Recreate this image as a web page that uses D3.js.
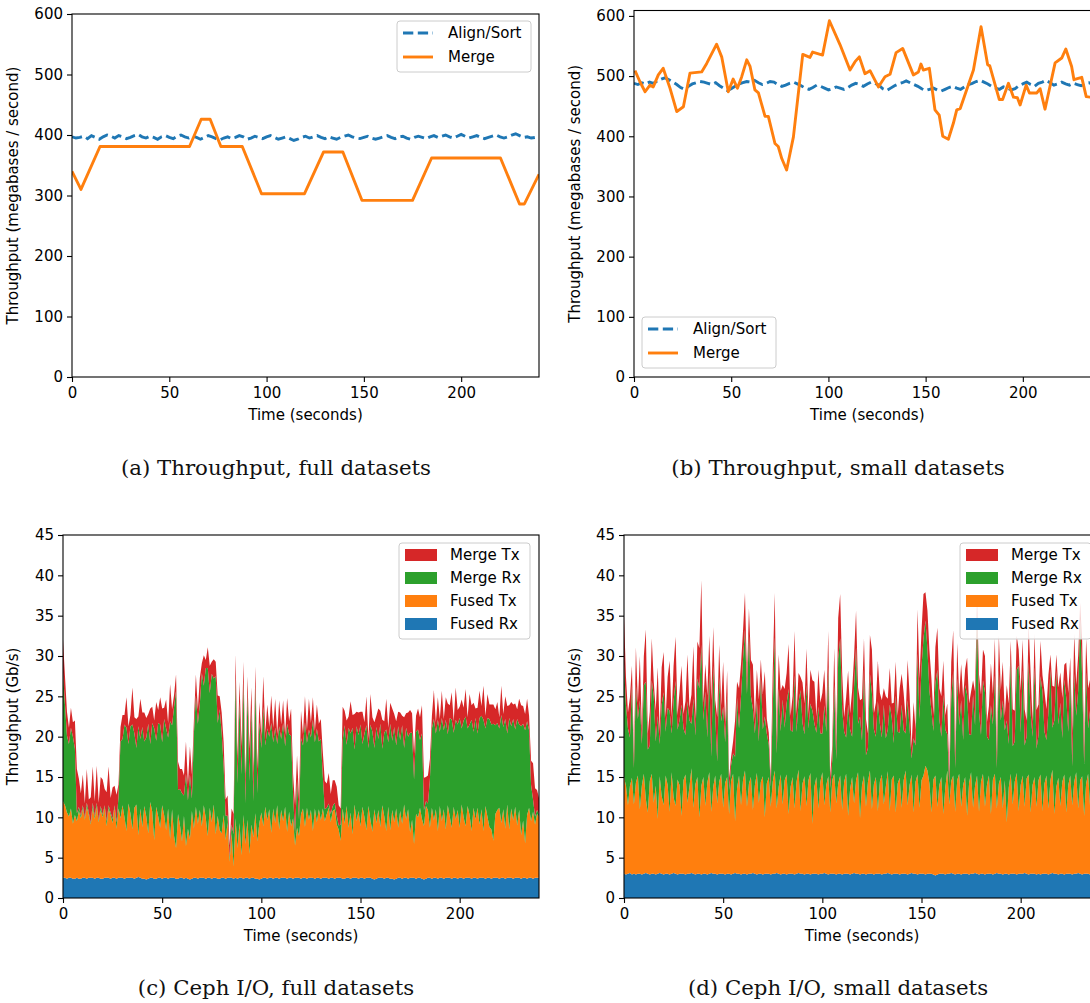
<!DOCTYPE html>
<html><head><meta charset="utf-8">
<script src="https://cdn.jsdelivr.net/npm/d3@7"></script>
<style>body{margin:0;background:#fff}svg{display:block}</style>
</head><body>
<svg id="c" width="1090" height="1003"></svg>
<script>
// ---------- DATA ----------
const xTicks = [0, 50, 100, 150, 200];
const yTicksThroughput = [0, 100, 200, 300, 400, 500, 600];
const yTicksCeph = [0, 5, 10, 15, 20, 25, 30, 35, 40, 45];
const lineSeries = ["Align/Sort", "Merge"];
const stackSeries = ["Fused Rx", "Fused Tx", "Merge Rx", "Merge Tx"];
const legendOrder = ["Merge Tx", "Merge Rx", "Fused Tx", "Fused Rx"];
const captions = ["(a) Throughput, full datasets", "(b) Throughput, small datasets",
                  "(c) Ceph I/O, full datasets", "(d) Ceph I/O, small datasets"];

// (a) Align/Sort sampled every 2 s
const alignA = [397,395,396,398,394,399,396,393,397,400,
 398,395,399,397,394,396,399,401,397,395,
 398,396,393,397,399,396,394,398,400,397,
 395,398,396,393,396,399,397,394,392,395,
 397,394,396,399,397,393,395,398,396,394,
 397,399,396,393,395,397,394,391,393,396,
 398,395,397,399,396,394,397,395,393,396,
 398,400,397,395,394,396,398,395,393,395,
 397,399,396,394,397,398,395,393,396,398,
 396,394,397,399,396,398,400,397,395,398,
 401,398,395,397,399,396,394,396,398,400,
 397,395,397,400,402,399,396,397,395,396,396];
const mergeATime = [0,4.6,14.4,60.4,66.4,71,76.5,87.5,97.4,119.5,129.3,139.2,149,175,184.8,220.2,230,232.5,240];
const mergeAVal  = [340,310,381,381,426,426,381,381,303,303,372,372,292,292,362,362,286,286,335];

// (b)
const alignB = [488,486,489,487,490,488,492,495,497,494,
 490,486,481,478,483,487,489,491,490,488,
 486,489,484,480,476,479,483,487,489,491,
 490,493,489,486,488,491,490,486,483,485,
 488,490,487,484,480,478,481,485,483,480,
 477,479,482,480,478,481,485,488,486,483,
 487,490,488,485,479,476,480,484,487,489,
 492,489,486,483,479,476,478,480,477,475,
 478,481,483,480,478,482,486,488,491,493,
 490,487,483,480,478,482,480,477,479,484,
 487,490,486,483,488,490,493,489,485,487,
 490,487,485,488,486,484,487,489,486,485,486];
const mergeBTime = [0.5,3,5.7,8.2,9.9,12.5,15,18.5,22,25.4,28.8,34.8,37.4,42.5,45.1,48.5,51,53.2,55.4,58,
 59.7,62.2,64,67.4,69.1,72.5,74.2,76,78.5,82,86.8,90.5,91.9,97,100.5,106,111.1,113.7,115.9,118.8,
 121.4,125.7,129.1,131.7,134.8,138.2,143.7,146.3,147.6,148.8,151.9,154.8,157,158.8,161.7,164.3,166,167.8,174.6,178.5,
 181.9,183,187.9,189.6,192.6,195.2,197.2,198.6,201.7,203.4,207.2,208.9,211.4,216.6,220,222.1,225.1,226.3,230.3,232.6,234.6,240];
const mergeBVal = [509,491,474,485,482,502,513,480,441,449,505,507,521,553,532,474,495,480,499,527,
 516,477,472,433,433,388,383,363,344,399,536,531,540,535,592,552,510,524,532,504,
 509,482,499,503,539,546,502,507,520,510,513,444,435,400,395,422,444,446,510,582,
 519,517,461,461,488,465,464,452,485,472,472,479,445,522,530,545,516,494,498,466,465,470];

// (c) Ceph I/O full datasets, one sample per second (Gb/s)
const fusedRxC = [2.5,2.5,2.4,2.5,2.5,2.4,2.4,2.5,2.4,2.4,
 2.5,2.5,2.4,2.5,2.5,2.5,2.4,2.5,2.5,2.4,
 2.4,2.5,2.5,2.5,2.4,2.5,2.5,2.4,2.5,2.5,
 2.5,2.4,2.5,2.5,2.5,2.5,2.4,2.5,2.6,2.5,
 2.4,2.4,2.3,2.4,2.5,2.5,2.4,2.4,2.5,2.5,
 2.4,2.5,2.5,2.4,2.5,2.5,2.5,2.4,2.4,2.5,
 2.5,2.4,2.5,2.4,2.3,2.4,2.5,2.5,2.4,2.5,
 2.5,2.5,2.4,2.5,2.5,2.4,2.5,2.5,2.4,2.4,
 2.5,2.5,2.4,2.5,2.5,2.5,2.4,2.5,2.4,2.5,
 2.5,2.4,2.5,2.5,2.4,2.5,2.5,2.4,2.4,2.3,
 2.4,2.5,2.5,2.4,2.5,2.5,2.4,2.5,2.5,2.4,
 2.5,2.5,2.5,2.4,2.5,2.5,2.4,2.5,2.5,2.5,
 2.4,2.5,2.5,2.4,2.5,2.5,2.5,2.4,2.5,2.5,
 2.4,2.5,2.5,2.5,2.4,2.5,2.5,2.4,2.5,2.5,
 2.5,2.4,2.4,2.5,2.5,2.4,2.5,2.5,2.5,2.4,
 2.5,2.5,2.4,2.5,2.5,2.5,2.4,2.3,2.4,2.5,
 2.5,2.5,2.4,2.5,2.5,2.4,2.4,2.3,2.4,2.5,
 2.5,2.4,2.5,2.5,2.4,2.5,2.5,2.5,2.4,2.5,
 2.5,2.4,2.3,2.4,2.5,2.5,2.4,2.5,2.5,2.4,
 2.5,2.5,2.4,2.5,2.5,2.5,2.4,2.5,2.5,2.4,
 2.5,2.5,2.4,2.5,2.5,2.5,2.4,2.5,2.5,2.4,
 2.5,2.5,2.5,2.4,2.5,2.5,2.4,2.5,2.5,2.5,
 2.4,2.5,2.5,2.4,2.5,2.5,2.5,2.4,2.5,2.5,
 2.5,2.4,2.5,2.5,2.4,2.5,2.5,2.4,2.5,2.5,
 2.5];
const fusedTxC = [9.5,9.0,8.2,7.6,8.6,6.8,7.9,7.0,8.4,7.5,
 8.6,7.2,8.9,7.8,6.6,8.7,7.4,8.9,6.9,8.5,
 7.6,8.8,6.4,8.6,7.9,6.8,8.8,6.2,8.6,7.4,
 9.0,7.6,5.8,9.2,8.0,6.0,8.8,9.1,5.2,8.6,
 6.4,9.0,7.8,5.6,9.4,8.2,4.8,8.9,7.6,6.2,
 9.1,7.8,5.9,8.7,4.8,8.5,5.2,3.8,8.0,6.5,
 4.5,7.8,3.9,6.2,5.0,8.4,6.1,8.8,6.8,8.4,
 6.4,9.0,7.5,5.2,8.7,7.0,9.1,5.4,7.8,6.0,
 5.5,7.8,4.8,6.9,2.0,5.6,1.5,7.4,3.8,6.8,
 2.8,7.9,4.2,7.2,3.1,6.6,5.0,8.1,4.6,7.0,
 8.2,6.4,8.8,7.2,8.5,5.6,8.7,6.8,9.0,6.1,
 8.4,7.0,8.8,5.8,8.2,6.4,7.5,4.0,6.2,5.2,
 8.0,8.6,6.3,8.8,7.2,8.4,5.8,8.7,6.9,8.5,
 7.2,8.6,7.0,7.9,8.8,6.9,8.3,8.6,6.6,6.0,
 4.6,8.7,6.8,8.9,6.2,8.2,5.4,9.1,7.0,8.4,
 6.4,8.8,7.6,5.9,8.9,7.2,5.8,8.7,6.9,8.4,
 6.3,9.0,7.7,5.8,8.8,6.0,8.5,7.1,8.7,6.2,
 8.3,6.8,9.1,7.2,8.6,5.6,7.2,4.2,8.0,7.5,
 8.7,7.4,6.6,9.0,8.4,6.2,8.8,7.1,8.5,5.9,
 8.9,7.0,8.6,6.0,9.0,7.6,6.3,8.8,7.2,8.5,
 6.2,9.1,7.6,6.4,8.9,7.8,5.9,8.7,7.2,8.8,
 6.6,8.5,5.8,9.0,7.6,6.3,6.1,4.6,7.9,8.4,
 8.8,6.8,8.5,6.2,9.1,6.0,8.6,7.2,8.8,6.5,
 8.4,5.4,7.1,4.3,7.9,8.7,7.0,8.3,6.6,7.9,
 7.6];
const mergeRxC = [16.0,12.5,9.5,9.0,10.0,10.8,8.2,1.0,0.5,0.3,
 0.4,0.2,0.5,0.3,0.2,0.6,0.3,0.4,0.2,0.5,
 0.3,0.2,0.6,0.4,0.3,0.5,0.2,0.8,1.5,9.5,
 8.2,11.5,12.8,7.4,10.8,13.0,9.2,7.0,13.5,8.6,
 12.4,8.0,9.8,13.6,7.2,11.0,13.8,8.2,11.6,12.8,
 7.8,11.9,12.6,8.8,14.6,10.4,16.0,19.5,3.0,4.5,
 6.0,2.5,9.0,3.5,8.0,1.5,11.8,13.8,12.4,13.2,
 19.0,14.8,18.6,20.8,14.2,18.4,15.6,19.6,11.5,15.0,
 12.5,6.0,3.0,0.8,0.5,1.0,4.0,17.5,8.0,15.0,
 10.0,16.5,5.0,15.8,9.0,14.5,4.5,16.0,6.0,12.5,
 8.0,14.8,7.6,11.4,9.0,13.6,8.2,11.8,7.6,12.8,
 8.8,12.2,7.5,13.4,9.6,11.2,3.0,1.5,6.0,2.0,
 9.4,7.8,13.0,8.0,11.2,9.0,13.8,8.2,11.6,8.4,
 10.1,4.0,1.5,0.8,0.5,1.0,0.6,0.8,1.2,0.5,
 2.0,8.4,12.2,7.6,12.4,9.8,13.2,6.8,11.8,9.4,
 12.6,7.8,10.4,13.0,7.2,11.8,12.4,7.6,11.9,8.8,
 12.8,7.0,10.4,12.6,8.0,13.2,8.6,11.8,7.8,12.6,
 8.8,12.2,7.0,11.4,9.0,12.4,10.8,8.0,10.2,10.9,
 8.4,10.6,2.0,0.6,0.8,6.0,9.8,12.6,9.4,13.8,
 9.2,12.8,9.8,13.6,8.8,12.2,13.4,9.2,12.4,10.6,
 13.6,9.4,12.0,13.6,9.6,11.2,13.8,9.4,12.6,9.2,
 13.2,11.6,13.8,9.6,12.2,13.4,13.0,14.5,11.0,10.8,
 9.8,13.4,10.2,13.6,8.8,13.8,10.2,12.6,9.6,13.2,
 10.6,13.5,12.0,14.0,11.6,9.6,4.5,1.5,1.0,0.5,
 0.3];
const mergeTxC = [4.0,3.5,3.0,2.0,2.5,1.8,3.5,5.5,3.5,2.8,
 3.8,1.8,4.2,1.6,3.2,4.5,1.9,4.6,2.2,3.6,
 4.4,2.0,3.6,4.8,1.8,3.9,2.4,3.4,1.5,1.8,
 3.0,1.2,3.8,2.2,1.4,4.6,2.0,3.6,1.2,5.0,
 1.8,3.6,2.4,1.2,4.4,2.0,1.0,4.8,1.6,3.4,
 4.2,1.4,3.6,1.8,4.6,2.0,1.5,2.0,3.5,2.5,
 3.0,2.5,4.0,2.0,3.5,3.0,1.6,2.6,1.8,3.2,
 1.2,3.8,1.0,2.6,3.4,1.5,2.4,1.8,3.4,1.6,
 2.5,3.0,2.0,2.5,1.5,2.0,2.5,2.8,3.0,2.5,
 3.5,2.5,3.0,2.0,4.0,2.5,3.5,2.2,3.0,2.5,
 1.4,3.8,1.6,3.0,1.2,3.4,1.8,3.6,1.2,3.2,
 1.8,2.8,1.4,3.2,1.6,3.4,2.5,3.5,3.0,2.5,
 3.4,1.4,3.2,1.6,3.8,1.8,2.8,1.4,3.0,2.2,
 2.5,3.0,3.5,3.0,3.8,2.5,3.2,2.8,3.5,2.5,
 2.0,4.2,1.8,3.0,1.4,4.0,1.6,4.4,1.8,2.8,
 1.6,4.0,1.4,3.6,1.2,3.8,1.8,3.2,1.4,3.8,
 1.6,3.6,1.4,3.8,1.8,2.6,4.0,1.6,3.0,1.8,
 3.4,1.2,3.8,1.8,3.0,2.8,2.4,3.2,2.0,2.6,
 2.8,3.5,4.0,3.0,3.5,2.5,1.6,3.6,1.4,2.8,
 1.6,3.4,1.4,2.8,3.8,1.6,3.4,1.4,4.0,1.8,
 1.4,3.6,1.6,3.4,1.4,3.8,1.8,3.6,1.2,3.2,
 3.4,1.2,4.2,1.6,3.0,1.8,2.5,2.4,2.0,2.6,
 1.4,3.6,1.6,2.8,3.4,1.6,3.0,1.8,3.2,1.2,
 3.2,2.6,2.2,2.0,2.8,1.8,3.0,4.5,3.5,2.5,
 2.0];

// (d) Ceph I/O small datasets
const fusedRxD = [3.0,2.9,3.0,3.1,2.9,3.0,2.9,3.0,3.0,2.9,
 3.0,3.1,3.0,2.9,3.0,3.0,2.9,3.0,3.1,3.0,
 2.9,3.0,3.0,2.9,3.0,3.1,3.0,2.9,3.0,3.0,
 3.0,2.9,3.0,3.0,3.1,3.0,2.9,3.0,3.0,2.9,
 3.0,3.0,2.9,3.0,3.1,3.0,3.0,2.9,3.0,3.0,
 3.0,2.9,3.0,3.0,2.9,3.0,3.1,3.0,3.0,2.9,
 3.0,3.0,2.9,3.0,3.0,3.1,3.0,2.9,3.0,3.0,
 2.9,3.0,3.0,3.0,2.9,3.0,3.0,3.1,3.0,2.9,
 3.0,3.0,2.9,3.0,3.0,3.0,2.9,3.0,3.1,3.0,
 3.0,2.9,3.0,3.0,2.9,3.0,3.0,3.0,2.9,3.0,
 3.0,3.1,3.0,2.9,3.0,3.0,3.0,2.9,3.0,3.0,
 2.9,3.0,3.0,3.0,2.9,3.0,3.1,3.0,3.0,2.9,
 3.0,3.0,2.9,3.0,3.0,3.0,2.9,3.0,3.0,3.0,
 2.9,3.0,3.0,3.1,3.0,2.9,3.0,3.0,3.0,2.9,
 3.0,3.0,3.0,2.9,3.0,3.1,3.0,3.0,2.9,3.0,
 3.0,3.0,2.9,3.0,3.0,3.0,2.9,2.8,2.9,3.0,
 3.0,3.0,2.9,3.0,3.0,3.1,3.0,2.9,3.0,3.0,
 2.9,3.0,3.0,3.0,2.9,3.0,3.0,3.1,3.0,2.9,
 3.0,3.0,2.9,3.0,3.0,3.0,2.9,3.0,3.1,3.0,
 3.0,2.9,3.0,3.0,2.9,3.0,3.0,3.0,2.9,3.0,
 3.0,3.0,3.1,3.0,2.9,3.0,3.0,3.0,2.9,3.0,
 2.9,3.0,3.0,3.0,2.9,3.0,3.1,3.0,3.0,2.9,
 3.0,3.0,2.9,3.0,3.0,3.0,2.9,3.0,3.0,3.1,
 3.0,2.9,3.0,3.0,3.0,2.9,3.0,3.0,3.1,3.0,
 3.0];
const fusedTxD = [12.0,11.0,8.5,10.8,12.0,8.6,11.4,12.2,8.0,11.0,
 12.4,9.2,7.6,11.6,12.4,8.8,11.0,6.8,12.0,9.6,
 8.6,12.2,11.0,7.8,12.6,9.4,8.4,11.8,11.0,7.2,
 11.6,12.4,8.8,10.8,13.0,8.2,11.2,12.0,7.0,11.0,
 12.0,8.4,11.4,12.6,7.6,10.8,12.2,8.8,11.4,12.4,
 8.2,11.4,12.0,7.4,11.6,12.4,6.4,10.6,12.2,8.6,
 11.6,12.8,8.4,11.2,12.0,7.8,11.0,12.6,8.8,11.4,
 12.2,7.0,11.2,12.0,8.4,11.4,12.8,8.0,10.8,12.4,
 8.6,11.6,12.4,7.4,10.8,12.0,8.2,11.4,12.8,7.8,
 11.2,12.2,8.4,11.6,12.6,6.2,10.8,12.0,8.2,11.4,
 12.6,8.4,11.0,12.2,7.6,11.6,12.4,8.8,11.2,12.2,
 8.0,11.4,12.4,7.2,10.6,12.0,8.6,11.6,12.6,7.0,
 11.0,12.2,8.4,11.4,12.8,8.0,11.2,12.0,7.8,11.4,
 12.4,8.6,10.8,12.6,7.8,11.8,12.2,7.6,11.2,12.0,
 8.2,11.6,12.8,8.6,11.0,12.2,7.6,11.4,12.4,8.2,
 11.6,12.2,13.5,12.8,11.2,7.6,11.8,12.4,8.4,11.0,
 12.0,7.4,10.8,12.8,8.6,11.4,12.2,7.8,11.6,12.4,
 8.4,11.0,12.0,7.2,11.4,12.6,8.2,10.8,12.2,7.8,
 11.4,12.4,8.4,11.0,12.2,7.4,11.8,12.4,8.0,11.2,
 12.0,8.2,11.6,6.4,10.8,12.4,8.6,11.4,12.6,7.8,
 11.0,12.2,8.2,11.8,12.4,7.6,11.0,12.0,8.4,11.6,
 12.4,7.8,11.2,12.2,8.2,11.6,12.8,7.4,10.8,12.0,
 8.4,11.4,12.4,7.6,11.0,12.2,8.6,11.4,12.6,8.0,
 11.6,12.2,7.2,11.2,12.4,8.4,11.8,12.4,8.2,11.4,
 12.0];
const mergeRxD = [14.0,10.0,9.5,6.0,11.5,4.5,12.2,7.0,13.5,5.2,
 11.0,14.5,7.8,4.4,11.6,13.2,5.5,12.8,4.0,11.4,
 14.0,5.4,9.6,12.5,4.8,11.9,15.5,6.2,8.0,13.8,
 6.4,4.9,12.6,8.2,5.5,13.5,6.0,12.2,16.0,17.5,
 7.0,14.2,5.6,12.4,6.8,15.0,7.5,5.2,13.0,6.5,
 12.5,5.0,10.2,3.0,2.0,2.5,8.0,11.2,5.8,13.5,
 15.0,17.5,14.0,18.5,10.0,12.5,6.4,9.0,7.6,13.2,
 5.8,12.5,6.2,4.0,2.5,9.2,16.5,6.8,12.2,5.4,
 13.0,6.5,8.8,15.5,7.0,5.6,16.5,6.2,8.4,15.0,
 7.5,5.2,15.0,6.4,8.6,14.0,7.8,5.5,12.6,6.0,
 4.8,12.4,6.6,13.5,3.0,2.5,11.0,5.5,15.5,17.0,
 12.5,6.2,4.5,13.8,7.4,5.0,14.5,16.5,6.0,12.6,
 5.5,13.2,6.4,4.2,12.0,14.4,6.8,5.0,13.6,7.2,
 4.6,12.4,6.0,5.2,13.2,7.6,4.0,14.5,6.4,5.6,
 12.8,6.2,4.6,13.0,7.0,2.0,9.2,4.5,15.0,11.0,
 14.0,17.0,18.0,15.0,11.5,12.6,6.0,11.4,17.0,8.2,
 5.0,14.8,7.2,4.5,2.5,10.2,13.0,5.4,12.6,6.0,
 13.2,5.6,11.4,15.0,6.0,4.6,14.0,7.5,20.0,12.4,
 5.8,11.6,14.2,6.0,4.4,13.5,6.8,12.2,5.0,14.0,
 7.0,13.4,6.2,12.6,5.4,14.5,7.2,5.0,12.8,18.0,
 6.5,13.0,7.6,5.2,14.0,12.4,6.0,13.6,7.2,5.6,
 12.2,14.8,6.4,4.4,12.0,13.8,5.2,11.6,14.4,6.6,
 12.8,5.4,11.8,14.2,6.6,12.6,4.8,13.4,7.0,14.6,
 20.0,12.2,6.4,13.8,5.6,12.0,14.4,6.2,12.6,5.4,
 9.0];
const mergeTxD = [6.0,3.5,2.0,5.0,2.4,1.6,4.6,2.0,5.5,1.8,
 3.6,6.5,2.0,4.2,5.2,1.8,3.8,6.0,1.6,4.6,
 5.0,1.8,3.8,6.2,2.0,4.4,5.5,1.8,3.6,4.8,
 1.8,4.2,5.8,1.6,3.6,6.5,2.0,4.6,5.0,8.0,
 2.2,3.4,5.2,4.5,7.0,4.8,1.8,5.5,4.0,2.0,
 5.6,2.2,3.0,1.5,1.0,1.5,4.5,2.0,5.0,4.0,
 3.5,4.5,2.0,3.2,4.5,5.5,1.8,3.8,5.2,2.0,
 4.4,5.6,1.8,1.5,1.0,4.6,5.5,2.0,4.2,5.0,
 1.8,4.8,3.8,5.6,1.8,4.4,5.5,2.2,3.6,1.6,
 5.0,3.8,4.5,1.8,4.2,3.8,5.2,2.0,4.6,3.8,
 5.0,4.4,2.0,4.5,1.4,1.8,4.6,2.2,5.0,5.5,
 4.6,1.8,5.0,4.2,2.0,5.6,3.8,4.5,4.5,2.0,
 5.2,3.8,4.5,1.8,4.8,5.4,2.0,4.2,5.0,3.8,
 4.6,2.0,5.2,3.8,4.5,1.8,5.0,4.2,2.0,5.5,
 3.8,4.6,1.8,5.0,4.2,1.4,4.5,2.0,5.5,5.0,
 4.5,5.5,3.5,4.8,5.0,4.0,2.0,4.5,5.2,3.8,
 5.0,4.2,1.8,3.8,1.4,4.6,5.0,2.0,4.4,3.8,
 4.5,5.2,2.0,4.6,3.8,5.4,1.8,4.2,2.0,4.6,
 5.0,3.8,4.5,1.8,4.2,5.2,3.8,4.6,2.0,4.4,
 3.8,4.8,1.8,4.4,5.0,2.0,4.6,3.8,4.2,2.0,
 5.2,3.8,4.5,2.0,4.6,5.0,1.8,4.2,4.8,3.8,
 4.4,2.0,5.0,3.8,4.6,1.8,5.2,4.2,2.0,4.6,
 3.8,5.0,1.8,4.4,4.8,2.0,4.2,5.0,3.8,4.4,
 2.0,4.6,2.0,4.2,5.0,3.8,4.6,1.8,4.4,3.8,
 3.0];

// ---------- DRAWING ----------
const BLUE = "#1f77b4", ORANGE = "#ff7f0e", GREEN = "#2ca02c", RED = "#d62728";
const colorOf = {"Align/Sort": BLUE, "Merge": ORANGE, "Fused Rx": BLUE, "Fused Tx": ORANGE, "Merge Rx": GREEN, "Merge Tx": RED};
const FONT = "'DejaVu Sans', sans-serif";
const FS = 15;
const svg = d3.select("#c");
let clipN = 0;

function frame(cfg) {
  const x = d3.scaleLinear().domain([0, 240]).range([cfg.L, cfg.R]);
  const y = d3.scaleLinear().domain([0, cfg.ymax]).range([cfg.B, cfg.T]);
  const id = "clip" + (clipN++);
  svg.append("clipPath").attr("id", id).append("rect")
    .attr("x", cfg.L).attr("y", cfg.T).attr("width", cfg.R - cfg.L).attr("height", cfg.B - cfg.T);
  const plot = svg.append("g").attr("clip-path", `url(#${id})`);
  return {x, y, plot};
}

function axes(cfg, x, y) {
  const gx = svg.append("g").attr("transform", `translate(0,${cfg.B})`)
    .call(d3.axisBottom(x).tickValues(xTicks).tickSize(5).tickPadding(5).tickFormat(d3.format("d")));
  const gy = svg.append("g").attr("transform", `translate(${cfg.L},0)`)
    .call(d3.axisLeft(y).tickValues(cfg.yticks).tickSize(5).tickPadding(4).tickFormat(d3.format("d")));
  [gx, gy].forEach(g => {
    g.attr("font-family", FONT).attr("font-size", FS);
    g.select(".domain").remove();
    g.selectAll("line").attr("stroke", "#000").attr("stroke-width", 1.1);
    g.selectAll("text").attr("fill", "#000");
  });
  svg.append("rect").attr("x", cfg.L).attr("y", cfg.T).attr("width", cfg.R - cfg.L).attr("height", cfg.B - cfg.T)
    .attr("fill", "none").attr("stroke", "#000").attr("stroke-width", 1.1);
  svg.append("text").attr("x", (cfg.L + cfg.R) / 2).attr("y", cfg.B + 43)
    .attr("text-anchor", "middle").attr("font-family", FONT).attr("font-size", FS).text("Time (seconds)");
  svg.append("text").attr("transform", `translate(${cfg.ylx},${(cfg.T + cfg.B) / 2}) rotate(-90)`)
    .attr("text-anchor", "middle").attr("font-family", FONT).attr("font-size", FS).text(cfg.ylabel);
}

function legendBox(x0, y0, w, h) {
  svg.append("rect").attr("x", x0).attr("y", y0).attr("width", w).attr("height", h).attr("rx", 3)
    .attr("fill", "#fff").attr("fill-opacity", 0.8).attr("stroke", "#cccccc").attr("stroke-width", 1);
}

function linePanel(cfg, align, mergeT, mergeV) {
  const {x, y, plot} = frame(cfg);
  const line = d3.line().x(d => x(d[0])).y(d => y(d[1]));
  const alignPts = align.map((v, i) => [i * 2, v]);
  const mergePts = mergeT.map((t, i) => [t, mergeV[i]]);
  plot.append("path").attr("d", line(alignPts)).attr("fill", "none").attr("stroke", BLUE)
    .attr("stroke-width", 2.9).attr("stroke-dasharray", "10.3,4.5");
  plot.append("path").attr("d", line(mergePts)).attr("fill", "none").attr("stroke", ORANGE)
    .attr("stroke-width", 2.9).attr("stroke-linejoin", "round");
  axes(cfg, x, y);
  const lx = cfg.legX, ly = cfg.legY;
  legendBox(lx, ly, 134, 51);
  lineSeries.forEach((s, i) => {
    const yy = ly + 12 + i * 24;
    svg.append("line").attr("x1", lx + 6).attr("x2", lx + 36).attr("y1", yy).attr("y2", yy)
      .attr("stroke", colorOf[s]).attr("stroke-width", 2.9)
      .attr("stroke-dasharray", s === "Align/Sort" ? "10.3,4.5" : null);
    svg.append("text").attr("x", lx + 51).attr("y", yy).attr("dy", "0.35em")
      .attr("font-family", FONT).attr("font-size", FS).text(s);
  });
}

function stackPanel(cfg, series) {
  const {x, y, plot} = frame(cfg);
  const n = series[0].length;
  const rows = d3.range(n).map(i => {
    const r = {t: i};
    stackSeries.forEach((k, j) => r[k] = series[j][i]);
    return r;
  });
  const stacked = d3.stack().keys(stackSeries)(rows);
  const area = d3.area().x(d => x(d.data.t)).y0(d => y(d[0])).y1(d => y(d[1]));
  stacked.forEach(layer => {
    plot.append("path").attr("d", area(layer)).attr("fill", colorOf[layer.key]);
  });
  axes(cfg, x, y);
  const lx = cfg.R - 140, ly = cfg.T + 8;
  legendBox(lx, ly, 131, 96);
  legendOrder.forEach((s, i) => {
    const yy = ly + 12 + i * 23;
    svg.append("rect").attr("x", lx + 6).attr("y", yy - 6).attr("width", 32).attr("height", 12)
      .attr("fill", colorOf[s]);
    svg.append("text").attr("x", lx + 51).attr("y", yy).attr("dy", "0.35em")
      .attr("font-family", FONT).attr("font-size", FS).text(s);
  });
}

linePanel({L: 72, R: 539, T: 14, B: 377, ymax: 600, yticks: yTicksThroughput,
  ylabel: "Throughput (megabases / second)", ylx: 18, legX: 397, legY: 21}, alignA, mergeATime, mergeAVal);
linePanel({L: 634, R: 1100.6, T: 10.5, B: 377, ymax: 609, yticks: yTicksThroughput,
  ylabel: "Throughput (megabases / second)", ylx: 580, legX: 642, legY: 317}, alignB, mergeBTime, mergeBVal);
stackPanel({L: 63, R: 539, T: 535, B: 898, ymax: 45, yticks: yTicksCeph,
  ylabel: "Throughput (Gb/s)", ylx: 18}, [fusedRxC, fusedTxC, mergeRxC, mergeTxC]);
stackPanel({L: 624, R: 1100, T: 535, B: 898, ymax: 45, yticks: yTicksCeph,
  ylabel: "Throughput (Gb/s)", ylx: 580}, [fusedRxD, fusedTxD, mergeRxD, mergeTxD]);

// captions
[[276, 475, 0], [838, 475, 1], [276, 995, 2], [838, 995, 3]].forEach(([cx, cy, i]) => {
  svg.append("text").attr("x", cx).attr("y", cy).attr("text-anchor", "middle")
    .attr("font-family", "'DejaVu Serif', serif").attr("font-size", 21.3).attr("fill", "#111")
    .text(captions[i]);
});
</script>
</body></html>
